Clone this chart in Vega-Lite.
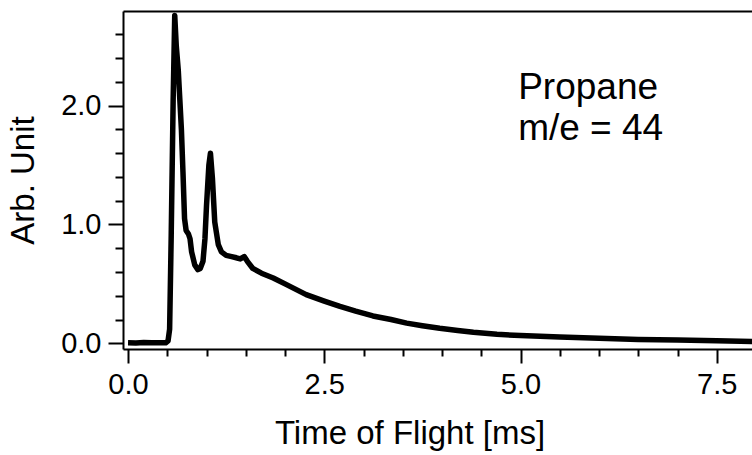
{
  "$schema": "https://vega.github.io/schema/vega-lite/v6.json",
  "width": 629,
  "height": 338,
  "autosize": {"type": "none"},
  "padding": {"left": 123, "top": 11, "right": 0, "bottom": 106},
  "background": "white",
  "config": {
    "view": {"stroke": null},
    "font": "Liberation Sans",
    "axis": {
      "domainColor": "black",
      "domainWidth": 2,
      "tickColor": "black",
      "tickWidth": 2,
      "labelColor": "black",
      "labelFont": "Liberation Sans",
      "labelFontSize": 29,
      "titleColor": "black",
      "titleFont": "Liberation Sans",
      "titleFontSize": 33,
      "titleFontWeight": "normal",
      "grid": false,
      "labelOverlap": false,
      "labelFlush": false
    }
  },
  "datasets": {
    "tof": [
      {"t": 0.0, "v": 0.005},
      {"t": 0.1, "v": 0.003},
      {"t": 0.2, "v": 0.006},
      {"t": 0.3, "v": 0.004},
      {"t": 0.4, "v": 0.005},
      {"t": 0.48, "v": 0.004},
      {"t": 0.51, "v": 0.02},
      {"t": 0.53, "v": 0.12},
      {"t": 0.55, "v": 0.9},
      {"t": 0.575, "v": 2.05},
      {"t": 0.595, "v": 2.76},
      {"t": 0.615, "v": 2.5},
      {"t": 0.64, "v": 2.3},
      {"t": 0.66, "v": 2.05},
      {"t": 0.68, "v": 1.8},
      {"t": 0.70, "v": 1.44},
      {"t": 0.72, "v": 1.05},
      {"t": 0.74, "v": 0.95},
      {"t": 0.77, "v": 0.92},
      {"t": 0.79, "v": 0.88},
      {"t": 0.81, "v": 0.77},
      {"t": 0.85, "v": 0.66},
      {"t": 0.89, "v": 0.62},
      {"t": 0.92, "v": 0.63},
      {"t": 0.955, "v": 0.69},
      {"t": 0.98, "v": 0.88},
      {"t": 1.0, "v": 1.16},
      {"t": 1.03, "v": 1.5},
      {"t": 1.05, "v": 1.6},
      {"t": 1.075, "v": 1.39},
      {"t": 1.105, "v": 1.02},
      {"t": 1.15, "v": 0.83},
      {"t": 1.19, "v": 0.77},
      {"t": 1.25, "v": 0.74},
      {"t": 1.32, "v": 0.73},
      {"t": 1.38, "v": 0.72},
      {"t": 1.43, "v": 0.71},
      {"t": 1.48, "v": 0.73},
      {"t": 1.52, "v": 0.69},
      {"t": 1.59, "v": 0.63},
      {"t": 1.7, "v": 0.59},
      {"t": 1.85, "v": 0.55},
      {"t": 2.0, "v": 0.5},
      {"t": 2.27, "v": 0.41},
      {"t": 2.5, "v": 0.355},
      {"t": 2.7, "v": 0.31},
      {"t": 2.9, "v": 0.27},
      {"t": 3.12, "v": 0.23},
      {"t": 3.35, "v": 0.2},
      {"t": 3.55, "v": 0.17},
      {"t": 3.75, "v": 0.148},
      {"t": 3.97, "v": 0.126},
      {"t": 4.2, "v": 0.108},
      {"t": 4.4, "v": 0.093},
      {"t": 4.7, "v": 0.076},
      {"t": 5.0, "v": 0.065},
      {"t": 5.5, "v": 0.052},
      {"t": 6.0, "v": 0.043},
      {"t": 6.5, "v": 0.033},
      {"t": 7.0, "v": 0.027},
      {"t": 7.5, "v": 0.022},
      {"t": 8.0, "v": 0.015}
    ],
    "note": [
      {"label": "Propane"}
    ]
  },
  "layer": [
    {
      "data": {"name": "tof"},
      "mark": {"type": "line", "color": "black", "strokeWidth": 5.5, "clip": true, "strokeJoin": "round"},
      "encoding": {
        "x": {
          "field": "t",
          "type": "quantitative",
          "scale": {"domain": [-0.064, 7.949], "nice": false, "zero": false},
          "axis": {
            "orient": "bottom",
            "title": "Time of Flight [ms]",
            "values": [0, 0.5, 1, 1.5, 2, 2.5, 3, 3.5, 4, 4.5, 5, 5.5, 6, 6.5, 7, 7.5],
            "tickCount": 40,
            "labelExpr": "datum.value % 2.5 === 0 ? format(datum.value, '.1f') : ''",
            "tickSize": {"condition": {"test": "datum.value % 2.5 === 0", "value": 14}, "value": 7},
            "labelPadding": 7,
            "labelOverlap": false,
            "titleX": 286.5,
            "titleY": 94,
            "titleAlign": "center",
            "titleBaseline": "alphabetic"
          }
        },
        "y": {
          "field": "v",
          "type": "quantitative",
          "scale": {"domain": [-0.048, 2.797], "nice": false, "zero": false},
          "axis": {
            "orient": "left",
            "title": "Arb. Unit",
            "values": [0, 0.2, 0.4, 0.6, 0.8, 1, 1.2, 1.4, 1.6, 1.8, 2, 2.2, 2.4, 2.6],
            "tickCount": 40,
            "labelExpr": "datum.value % 1 === 0 ? format(datum.value, '.1f') : ''",
            "tickSize": {"condition": {"test": "datum.value % 1 === 0", "value": 15}, "value": 8},
            "labelPadding": 7,
            "labelOverlap": false,
            "titleX": -100,
            "titleY": 169,
            "titleAngle": -90,
            "titleAlign": "center",
            "titleBaseline": "middle"
          }
        }
      }
    },
    {
      "data": {"name": "note"},
      "mark": {"type": "text", "align": "left", "baseline": "alphabetic", "fontSize": 37, "font": "Liberation Sans", "lineHeight": 41.7, "color": "black", "text": ["Propane", "m/e = 44"]},
      "encoding": {
        "x": {
          "datum": 4.97,
          "type": "quantitative",
          "axis": {"orient": "top", "ticks": false, "labels": false, "title": null, "domainWidth": 2, "domainColor": "black"}
        },
        "y": {"datum": 2.06, "type": "quantitative"}
      }
    }
  ],
  "resolve": {"axis": {"x": "independent"}}
}
